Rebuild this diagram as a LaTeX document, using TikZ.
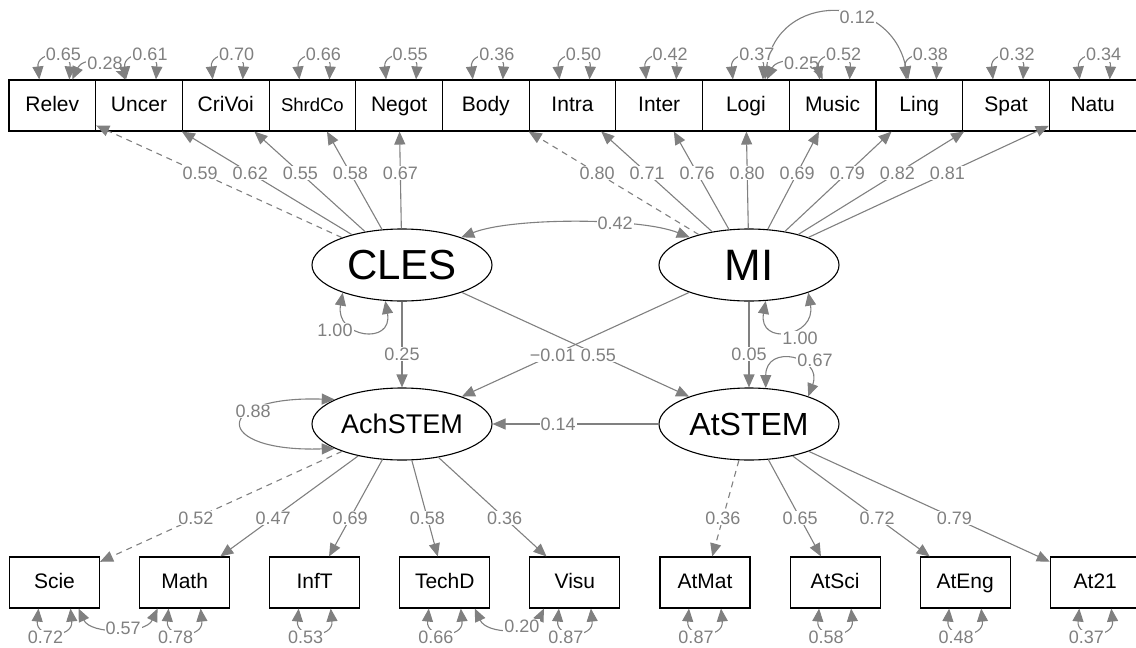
\documentclass[tikz,border=0pt]{standalone}
\usepackage{fontspec}
\setmainfont{Liberation Sans}
\usetikzlibrary{arrows.meta,calc,shapes.geometric}
\definecolor{edgegray}{RGB}{128,128,128}
\tikzset{
  man/.style={draw, line width=1.1pt, minimum width=86.7pt, minimum height=51pt,
    inner sep=0pt, text height=15pt, text depth=4pt, font=\fontsize{21}{24}\selectfont},
  lat/.style={draw, ellipse, line width=1.1pt, minimum width=180pt, minimum height=72pt, inner sep=0pt},
  ld/.style={edgegray, line width=1.1pt, -{Triangle[length=13pt,width=11pt]}},
  fixld/.style={ld, dash pattern=on 6pt off 5pt},
  cov/.style={edgegray, line width=1.1pt, {Triangle[length=13pt,width=11pt]}-{Triangle[length=13pt,width=11pt]}},
  lbl/.style={fill=white, text=edgegray, inner sep=1pt, font=\fontsize{18}{20}\selectfont},
}
\newcommand{\topvar}[2]{%
  \draw[cov] ([xshift=-13pt]#1.north) .. controls +(-3,-28) and +(2,-30) .. ([xshift=17pt]#1.north);
  \node[lbl] at ([shift={(11,-25)}]#1.north) {#2};}
\newcommand{\botvar}[2]{%
  \draw[cov] ([xshift=-16pt]#1.south) .. controls +(-3,30) and +(3,30) .. ([xshift=16pt]#1.south);
  \node[lbl] at ([shift={(-9,29)}]#1.south) {#2};}

\begin{document}
\begin{tikzpicture}[x=1pt,y=-1pt]
\useasboundingbox (0,0) rectangle (1136,648);

% indicators
\foreach \n/\t [count=\i from 0] in {Relev/Relev, Uncer/Uncer, CriVoi/CriVoi,
    ShrdCo/{\fontsize{18.5}{20}\selectfont ShrdCo}, Negot/Negot, Body/Body, Intra/Intra,
    Inter/Inter, Logi/Logi, Music/Music, Ling/Ling, Spat/Spat, Natu/Natu}
  \node[man] (\n) at (52.3+86.7*\i,105.5) {\t};
\foreach \n [count=\i from 0] in {Scie,Math,InfT,TechD,Visu,AtMat,AtSci,AtEng,At21}
  \node[man, minimum width=90pt] (\n) at (54.5+130.1*\i,582.5) {\n};

% latents
\node[lat, font=\fontsize{42}{44}\selectfont] (CLES) at (402,265) {CLES};
\node[lat, font=\fontsize{44}{46}\selectfont] (MI) at (749,265) {MI};
\node[lat, font=\fontsize{27}{30}\selectfont] (AchSTEM) at (402,424) {AchSTEM};
\node[lat, font=\fontsize{32}{34}\selectfont] (AtSTEM) at (749,424) {AtSTEM};

% loadings
\draw[fixld] (CLES) -- (Relev);
\foreach \n in {Uncer,CriVoi,ShrdCo,Negot} \draw[ld] (CLES) -- (\n);
\draw[fixld] (MI) -- (Body);
\foreach \n in {Intra,Inter,Logi,Music,Ling,Spat,Natu} \draw[ld] (MI) -- (\n);
\draw[fixld] (AchSTEM) -- (Scie);
\foreach \n in {Math,InfT,TechD,Visu} \draw[ld] (AchSTEM) -- (\n);
\draw[fixld] (AtSTEM) -- (AtMat);
\foreach \n in {AtSci,AtEng,At21} \draw[ld] (AtSTEM) -- (\n);

% regressions
\draw[ld] (CLES) -- (AchSTEM);
\draw[ld] (MI) -- (AtSTEM);
\draw[ld] (CLES) -- (AtSTEM);
\draw[ld] (MI) -- (AchSTEM);
\draw[ld] (AtSTEM) -- (AchSTEM);

% covariances
\draw[cov] (CLES.25) .. controls +(50,-20) and +(-50,-20) .. (MI.155) node[lbl,pos=0.65] {0.42};
\draw[cov] ([xshift=20pt]Relev.north) .. controls +(10,-22) and +(-10,-22) .. ([xshift=-14pt]Uncer.north) node[lbl,pos=0.6] {0.28};
\draw[cov] ([xshift=21pt]Logi.north) .. controls +(10,-22) and +(-10,-22) .. ([xshift=-10pt]Music.north) node[lbl,pos=0.6] {0.25};
\draw[cov] ([xshift=19pt]Logi.north) .. controls +(12,-88) and +(-18,-88) .. ([xshift=-11pt]Ling.north) node[lbl,pos=0.62] {0.12};
\draw[cov] ([xshift=24pt]Scie.south) .. controls +(12,26) and +(-12,26) .. ([xshift=-27pt]Math.south) node[lbl,pos=0.55] {0.57};
\draw[cov] ([xshift=30pt]TechD.south) .. controls +(12,26) and +(-12,26) .. ([xshift=-31pt]Visu.south) node[lbl,pos=0.65] {0.20};

% variances
\draw[cov] (CLES.205) .. controls +(-8,45) and +(8,45) .. (CLES.245);
\node[lbl] at ([shift={(-67,65)}]CLES) {1.00};
\draw[cov] (MI.295) .. controls +(-8,45) and +(8,45) .. (MI.335);
\node[lbl] at ([shift={(51,73)}]MI) {1.00};
\draw[cov] (AtSTEM.65) .. controls +(0,-45) and +(15,-40) .. (AtSTEM.25);
\node[lbl] at ([shift={(66,-64)}]AtSTEM) {0.67};
\draw[cov] (AchSTEM.160) .. controls +(-123,-4) and +(-123,4) .. (AchSTEM.200) node[lbl,pos=0.33] {0.88};
\foreach \n/\v in {Relev/0.65,Uncer/0.61,CriVoi/0.70,ShrdCo/0.66,Negot/0.55,Body/0.36,Intra/0.50,
    Inter/0.42,Logi/0.37,Music/0.52,Ling/0.38,Spat/0.32,Natu/0.34} {\topvar{\n}{\v}}
\foreach \n/\v in {Scie/0.72,Math/0.78,InfT/0.53,TechD/0.66,Visu/0.87,AtMat/0.87,AtSci/0.58,
    AtEng/0.48,At21/0.37} {\botvar{\n}{\v}}

% edge labels
\foreach \n/\v in {Relev/0.59,Uncer/0.62,CriVoi/0.55,ShrdCo/0.58,Negot/0.67}
  \node[lbl] at ($(CLES)!0.577!(\n)$) {\v};
\foreach \n/\v in {Body/0.80,Intra/0.71,Inter/0.76,Logi/0.80,Music/0.69,Ling/0.79,Spat/0.82,Natu/0.81}
  \node[lbl] at ($(MI)!0.577!(\n)$) {\v};
\foreach \n/\v in {Scie/0.52,Math/0.47,InfT/0.69,TechD/0.58,Visu/0.36}
  \node[lbl] at ($(AchSTEM)!0.593!(\n)$) {\v};
\foreach \n/\v in {AtMat/0.36,AtSci/0.65,AtEng/0.72,At21/0.79}
  \node[lbl] at ($(AtSTEM)!0.593!(\n)$) {\v};
\node[lbl] at ($(CLES)!0.56!(AchSTEM)$) {0.25};
\node[lbl] at ($(MI)!0.56!(AtSTEM)$) {0.05};
\node[lbl] at ($(MI)!0.566!(AchSTEM)$) {−0.01};
\node[lbl] at ($(CLES)!0.566!(AtSTEM)$) {0.55};
\node[lbl] at ($(AtSTEM)!0.55!(AchSTEM)$) {0.14};
\end{tikzpicture}
\end{document}
